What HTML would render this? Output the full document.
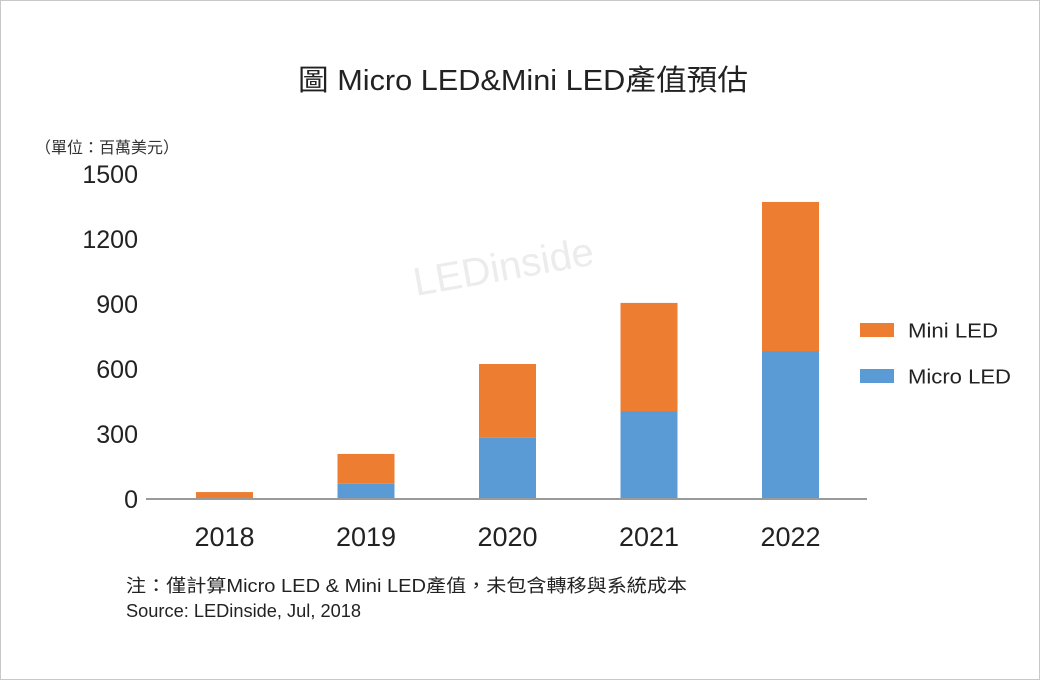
<!DOCTYPE html>
<html><head><meta charset="utf-8"><style>
body{margin:0;background:#fff}
#c{position:relative;width:1038px;height:678px;border:1px solid #c8c8c8;background:#fff;font-family:"Liberation Sans","Noto Sans CJK TC",sans-serif}
</style></head><body>
<div id="c">
<svg id="s" width="1038" height="678">
<text x="297" y="89" textLength="450" lengthAdjust="spacingAndGlyphs" font-size="29" fill="#222" font-family="Liberation Sans,Noto Sans CJK TC,sans-serif">圖 Micro LED&amp;Mini LED產值預估</text>
<text x="34" y="152" font-size="16" fill="#333" font-family="Liberation Sans,Noto Sans CJK TC,sans-serif">（單位：百萬美元）</text>
<g id="ticks"></g><g id="bars"></g>
<line x1="145" y1="498" x2="866" y2="498" stroke="#9a9a9a" stroke-width="2"/>
<g id="xl"></g>
<rect x="859" y="322" width="34" height="14" fill="#ED7D31"/>
<text x="907" y="331" font-size="20" fill="#222" textLength="90" lengthAdjust="spacingAndGlyphs" dominant-baseline="middle">Mini LED</text>
<rect x="859" y="368" width="34" height="14" fill="#5B9BD5"/>
<text x="907" y="377" font-size="20" fill="#222" textLength="103" lengthAdjust="spacingAndGlyphs" dominant-baseline="middle">Micro LED</text>
<text x="125" y="591" font-size="18" textLength="561" lengthAdjust="spacingAndGlyphs" fill="#222" font-family="Liberation Sans,Noto Sans CJK TC,sans-serif">注：僅計算Micro LED &amp; Mini LED產值，未包含轉移與系統成本</text>
<text x="125" y="616" font-size="18" textLength="235" lengthAdjust="spacingAndGlyphs" fill="#222">Source: LEDinside, Jul, 2018</text>
<text x="415" y="295" font-size="40" fill="#ececec" transform="rotate(-10 415 295)">LEDinside</text>
</svg></div>
<script>
const categories=["2018","2019","2020","2021","2022"];
const microValues=[2,70,282,406,683];
const miniValues=[30,138,341,499,688];
const tickLabels=[0,300,600,900,1200,1500];
const NS="http://www.w3.org/2000/svg";
const y0=498,yTop=173,maxV=1500;
const y=v=>y0-v/maxV*(y0-yTop);
const x=i=>223.5+i*141.5;
const bw=57;
function mk(t,a,p){const e=document.createElementNS(NS,t);for(const k in a)e.setAttribute(k,a[k]);document.getElementById(p).appendChild(e);return e;}
tickLabels.forEach(v=>{const t=mk("text",{x:137,y:y(v)+9,"text-anchor":"end","font-size":"25",fill:"#222"},"ticks");


t.textContent=v;});
categories.forEach((c,i)=>{
const m=mk("rect",{x:x(i)-bw/2,y:y(microValues[i]),width:bw,height:y0-y(microValues[i]),fill:"#5B9BD5"},"bars");


const tot=microValues[i]+miniValues[i];
const n=mk("rect",{x:x(i)-bw/2,y:y(tot),width:bw,height:y(microValues[i])-y(tot),fill:"#ED7D31"},"bars");


const t=mk("text",{x:x(i),y:545,"text-anchor":"middle","font-size":"27",fill:"#222"},"xl");


t.textContent=c;});
</script></body></html>
